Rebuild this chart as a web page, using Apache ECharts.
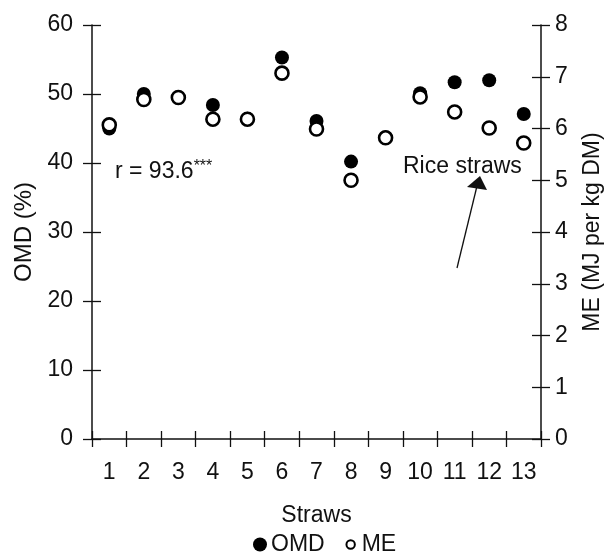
<!DOCTYPE html>
<html>
<head>
<meta charset="utf-8">
<script src="https://cdn.jsdelivr.net/npm/echarts@6/dist/echarts.min.js"></script>
<style>
html,body{margin:0;padding:0;background:#fff;}
#c{width:607px;height:554px;}
</style>
</head>
<body>
<div id="c"></div>
<script>
var categories = ['1','2','3','4','5','6','7','8','9','10','11','12','13'];
var omd = [45.0, 50.0, 49.5, 48.4, 46.4, 55.3, 46.1, 40.2, 43.7, 50.1, 51.7, 52.0, 47.1];
var me  = [6.07, 6.56, 6.60, 6.18, 6.18, 7.07, 5.99, 5.00, 5.82, 6.61, 6.32, 6.01, 5.72];
var omdTicks = {min: 0, max: 60, interval: 10};
var meTicks = {min: 0, max: 8, interval: 1};

var FONT = "'Liberation Sans', Arial, Helvetica, sans-serif";
var FS = 23;
var INK = '#111';
var chart = echarts.init(document.getElementById('c'), null, {renderer: 'canvas'});

function tickAxisY(pos, ticks, inside, showLine, labels, name, gap, labelMargin, nameSize) {
  return {
    type: 'value', position: pos, min: ticks.min, max: ticks.max, interval: ticks.interval,
    name: name || '', nameLocation: 'middle', nameGap: gap || 0,
    nameTextStyle: {fontFamily: FONT, fontSize: nameSize || FS, color: INK},
    axisLine: {show: showLine, lineStyle: {color: INK, width: 1.5}},
    axisTick: {show: true, inside: inside, length: 9, lineStyle: {color: INK, width: 1.3}},
    axisLabel: {show: labels, fontFamily: FONT, fontSize: FS, color: INK, margin: labelMargin || 8},
    splitLine: {show: false}
  };
}

var option = {
  backgroundColor: '#fff',
  animation: false,
  grid: {left: 92, right: 66, top: 25, bottom: 115, containLabel: false, outerBoundsMode: 'none'},
  xAxis: [
    {
      type: 'category', data: categories, boundaryGap: true, position: 'bottom',
      name: 'Straws', nameLocation: 'middle', nameGap: 65,
      nameTextStyle: {fontFamily: FONT, fontSize: FS, color: INK},
      axisLine: {show: true, lineStyle: {color: INK, width: 1.5}},
      axisTick: {show: true, inside: false, length: 8, alignWithLabel: false, lineStyle: {color: INK, width: 1.3}},
      axisLabel: {fontFamily: FONT, fontSize: FS, color: INK, margin: 22, interval: 0},
      splitLine: {show: false}
    },
    {
      type: 'category', data: categories, boundaryGap: true, position: 'bottom',
      axisLine: {show: false},
      axisTick: {show: true, inside: true, length: 8, alignWithLabel: false, lineStyle: {color: INK, width: 1.3}},
      axisLabel: {show: false},
      splitLine: {show: false}
    }
  ],
  yAxis: [
    tickAxisY('left', omdTicks, false, true, true, 'OMD (%)', 52, 19, 24),
    tickAxisY('right', meTicks, false, true, true, 'ME (MJ per kg DM)', 40, 14, 23),
    tickAxisY('left', omdTicks, true, false, false),
    tickAxisY('right', meTicks, true, false, false)
  ],
  legend: {
    top: 528, left: 248, itemGap: 18, itemWidth: 14, itemHeight: 14,
    textStyle: {fontFamily: FONT, fontSize: FS, color: INK, padding: [0, 0, 0, -1]},
    data: [
      {name: 'OMD', icon: 'circle', itemStyle: {color: '#000', borderWidth: 0}},
      {name: 'ME', icon: 'path://M0,0M20,20M10,4A6,6,0,1,1,10,16A6,6,0,1,1,10,4Z',
       itemStyle: {color: '#fff', borderColor: '#000', borderWidth: 2}}
    ]
  },
  series: [
    {
      name: 'OMD', type: 'scatter', xAxisIndex: 0, yAxisIndex: 0, data: omd,
      symbol: 'circle', symbolSize: 14, z: 2,
      itemStyle: {color: '#000', opacity: 1}
    },
    {
      name: 'ME', type: 'scatter', xAxisIndex: 0, yAxisIndex: 1, data: me,
      symbol: 'circle', symbolSize: 13, z: 3,
      itemStyle: {color: '#fff', borderColor: '#000', borderWidth: 2.6, opacity: 1}
    }
  ],
  graphic: [
    {
      type: 'text', left: 115, top: 159,
      style: {
        text: '{a|r = 93.6}{b|***}',
        rich: {
          a: {fontFamily: FONT, fontSize: FS, fill: INK},
          b: {fontFamily: FONT, fontSize: 16, fill: INK, verticalAlign: 'top', padding: [0, 0, 9, 0]}
        }
      }
    },
    {
      type: 'text', left: 403, top: 155,
      style: {text: 'Rice straws', fontFamily: FONT, fontSize: FS, fill: INK}
    },
    {
      type: 'line', z: 10,
      shape: {x1: 457, y1: 268, x2: 477, y2: 186},
      style: {stroke: INK, lineWidth: 1.3}
    },
    {
      type: 'polygon', z: 10,
      shape: {points: [[480, 176], [467, 187], [487, 190]]},
      style: {fill: INK}
    }
  ]
};
chart.setOption(option);
</script>
</body>
</html>
